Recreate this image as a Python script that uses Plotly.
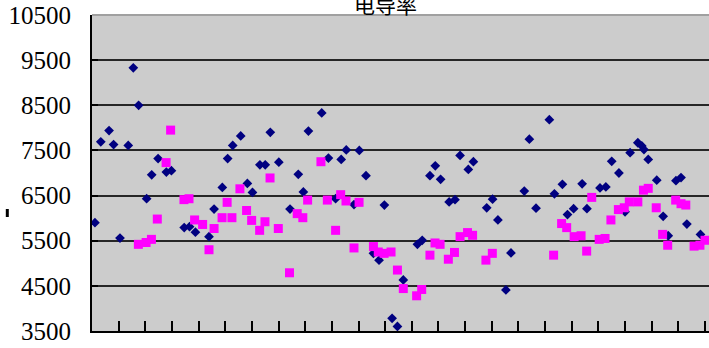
import plotly.graph_objects as go

# Conductivity readings, two series plotted against sample position
x_blue = [1.1, 3.3, 6.4, 8.1, 10.5, 13.6, 15.5, 17.5, 20.5, 22.4, 24.8, 27.9, 29.8,
          34.6, 36.6, 38.8, 43.9, 45.8, 48.9, 50.9, 52.8, 55.8, 58.3, 60.2, 63.0,
          65.0, 66.9, 70.1, 74.3, 77.4, 79.3, 81.2, 86.2, 88.7, 91.4, 93.5, 95.4,
          98.3, 100.3, 102.8, 105.6, 107.7, 109.7, 112.6, 114.6, 116.8, 122.1,
          123.9, 126.8, 128.8, 130.8, 134.0, 136.2, 138.1, 141.2, 143.1, 148.1,
          150.3, 152.3, 155.3, 157.2, 162.2, 164.1, 166.6, 171.6, 173.5, 176.5,
          178.4, 180.7, 183.9, 185.7, 190.6, 192.8, 195.0, 197.7, 200.0, 201.9,
          204.8, 206.3, 207.1, 208.7, 211.9, 214.3, 216.2, 219.1, 221.0, 223.2,
          228.3]
y_blue = [5900, 7690, 7940, 7630, 5560, 7610, 9330, 8500, 6430, 6960, 7320, 7020, 7050,
          5790, 5810, 5690, 5590, 6200, 6680, 7320, 7610, 7820, 6770, 6570, 7180,
          7180, 7900, 7240, 6200, 6970, 6580, 7930, 8330, 7330, 6430, 7300, 7510,
          6300, 7500, 6940, 5220, 5070, 6290, 3780, 3600, 4630, 5420,
          5510, 6940, 7160, 6860, 6360, 6410, 7390, 7080, 7250, 6230,
          6420, 5960, 4410, 5230, 6600, 7750, 6220, 8180, 6540, 6750,
          6080, 6210, 6760, 6210, 6670, 6690, 7260, 7000, 6140, 7450,
          7670, 7600, 7520, 7300, 6840, 6040, 5610, 6830, 6900, 5870,
          5640]

x_pink = [17.4, 20.3, 22.3, 24.5, 27.8, 29.5, 34.5, 36.4, 38.5, 41.5, 43.9, 45.8,
          48.8, 50.7, 52.5, 55.5, 58.0, 59.9, 62.9, 64.9, 66.8, 69.9, 74.1, 77.0,
          79.1, 80.9, 85.9, 88.3, 91.4, 93.3, 95.3, 98.3, 100.2, 105.6, 107.4,
          109.6, 112.2, 114.6, 116.8, 121.8, 123.7, 126.8, 128.7, 130.6, 133.7,
          136.0, 138.1, 140.9, 142.8, 147.8, 150.2, 173.2, 176.2, 178.1, 180.9,
          183.5, 185.6, 187.5, 190.3, 192.5, 194.7, 197.5, 199.7, 201.6, 204.8,
          206.9, 208.7, 211.7, 214.1, 216.0, 219.0, 221.0, 222.8, 225.9, 228.1,
          230.0]
y_pink = [5420, 5460, 5530, 5980, 7230, 7950, 6410, 6430, 5960, 5860, 5300, 5770,
          6010, 6350, 6010, 6650, 6170, 5950, 5730, 5920, 6890, 5770, 4790, 6100,
          6010, 6400, 7250, 6400, 5730, 6520, 6380, 5340, 6350, 5370, 5250,
          5220, 5250, 4850, 4440, 4280, 4420, 5180, 5450, 5420, 5090,
          5240, 5590, 5680, 5620, 5070, 5220, 5180, 5880, 5790, 5590,
          5610, 5270, 6460, 5530, 5550, 5960, 6190, 6230, 6360, 6360,
          6620, 6660, 6230, 5640, 5400, 6400, 6320, 6290, 5380, 5400,
          5510]

y_ticks = [3500, 4500, 5500, 6500, 7500, 8500, 9500, 10500]
title_text = "电导率"

fig = go.Figure()
fig.add_trace(go.Scatter(
    x=x_blue, y=y_blue, mode="markers",
    marker=dict(symbol="diamond", size=7.5, color="#000080", line=dict(width=0)),
    showlegend=False,
))
fig.add_trace(go.Scatter(
    x=x_pink, y=y_pink, mode="markers",
    marker=dict(symbol="square", size=9, color="#FF00FF", line=dict(width=0)),
    showlegend=False,
))

fig.update_layout(
    width=709, height=348,
    margin=dict(l=92, r=0, t=15, b=17),
    paper_bgcolor="white",
    plot_bgcolor="#CCCCCC",
    showlegend=False,
    xaxis=dict(
        range=[0, 231.5], tick0=0, dtick=10,
        showticklabels=False, ticks="inside", ticklen=10, tickwidth=1.5,
        tickcolor="black", showgrid=False, zeroline=False,
        showline=True, linecolor="black", linewidth=2,
    ),
    yaxis=dict(
        range=[3500, 10500], tickvals=y_ticks,
        ticktext=[str(v) for v in y_ticks],
        tickfont=dict(family="Liberation Serif", size=25, color="black"),
        ticks="inside", ticklen=6, tickwidth=1.5, tickcolor="black",
        ticklabelstandoff=14,
        showgrid=True, gridcolor="#262626", gridwidth=2,
        zeroline=False, showline=True, linecolor="black", linewidth=2,
    ),
    shapes=[
        # grey top border of the plot area
        dict(type="line", xref="paper", yref="paper", x0=0, x1=1, y0=1, y1=1,
             line=dict(color="#A0A0A0", width=2), layer="above"),
        # small mark left of the value axis
        dict(type="rect", xref="paper", yref="paper",
             x0=(5.8 - 92) / 617, x1=(8.8 - 92) / 617,
             y0=(331 - 217) / 316, y1=(331 - 209) / 316,
             fillcolor="black", line=dict(width=0)),
    ],
    annotations=[
        dict(text=title_text, xref="paper", yref="paper",
             x=(385 - 92) / 617, y=1, xanchor="center", yanchor="bottom",
             yshift=-6, showarrow=False,
             font=dict(family="Noto Sans CJK SC", size=21, color="black")),
    ],
)

fig.write_html("out.html")
